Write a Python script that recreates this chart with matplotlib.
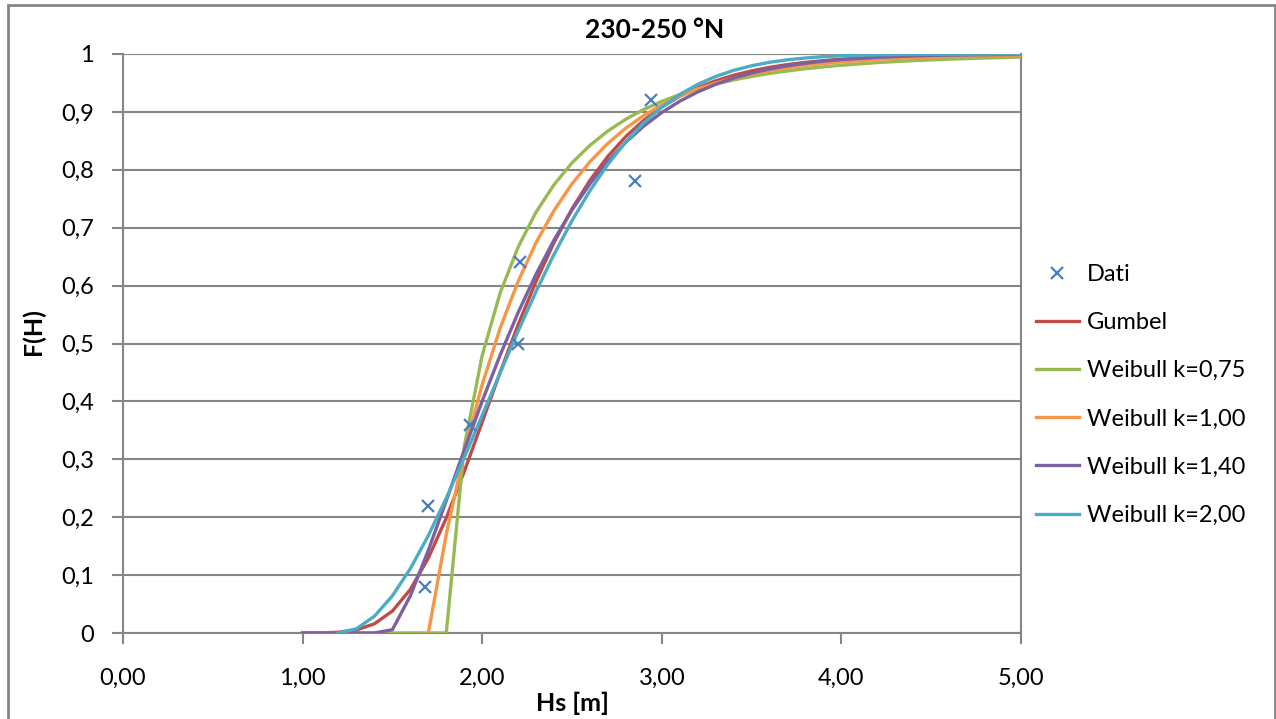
import numpy as np
import matplotlib
matplotlib.use("Agg")
import matplotlib.pyplot as plt
from matplotlib.patches import Rectangle
from matplotlib.ticker import FixedLocator, FuncFormatter

plt.rcParams['font.family'] = ['Lato', 'DejaVu Sans']

# ---- data ----
title = "230-250 °N"
x_label = "Hs [m]"
y_label = "F(H)"

dati_x = [1.68, 1.70, 1.93, 2.20, 2.21, 2.85, 2.94]
dati_f = [0.079, 0.219, 0.360, 0.500, 0.640, 0.781, 0.921]

hs = [1.0, 1.1, 1.2, 1.3, 1.4, 1.5, 1.6, 1.7, 1.8, 1.9,
      2.0, 2.1, 2.2, 2.3, 2.4, 2.5, 2.6, 2.7, 2.8, 2.9,
      3.0, 3.1, 3.2, 3.3, 3.4, 3.5, 3.6, 3.7, 3.8, 3.9,
      4.0, 4.2, 4.4, 4.6, 4.8, 5.0]

nan = float('nan')
gumbel = [0.000, 0.0002, 0.0013, 0.0053, 0.0159, 0.0379, 0.0752, 0.1295, 0.1987, 0.2789,
          0.3644, 0.4503, 0.5323, 0.6075, 0.6745, 0.7325, 0.7818, 0.8233, 0.8575, 0.8856,
          0.9085, 0.9270, 0.9418, 0.9537, 0.9633, 0.9708, 0.9769, 0.9817, 0.9855, 0.9885,
          0.9909, 0.9943, 0.9964, 0.9978, 0.9986, 0.9991]
weib_075 = [0.0, 0.0, 0.0, 0.0, 0.0, 0.0, 0.0, 0.0, 0.0, 0.3218,
            0.4795, 0.5874, 0.6665, 0.7270, 0.7743, 0.8120, 0.8423, 0.8671, 0.8874, 0.9042,
            0.9182, 0.9300, 0.9398, 0.9482, 0.9552, 0.9613, 0.9664, 0.9708, 0.9746, 0.9778,
            0.9806, 0.9852, 0.9886, 0.9911, 0.9931, 0.9946]
weib_100 = [nan, nan, nan, nan, nan, nan, nan, 0.0, 0.1705, 0.3119,
            0.4292, 0.5265, 0.6073, 0.6742, 0.7298, 0.7758, 0.8140, 0.8457, 0.8720, 0.8939,
            0.9120, 0.9270, 0.9394, 0.9498, 0.9583, 0.9654, 0.9713, 0.9762, 0.9803, 0.9836,
            0.9864, 0.9907, 0.9936, 0.9956, 0.9970, 0.9979]
weib_140 = [0.0, 0.0, 0.0, 0.0, 0.0, 0.0057, 0.0642, 0.1427, 0.2288, 0.3159,
            0.4005, 0.4801, 0.5534, 0.6197, 0.6788, 0.7307, 0.7758, 0.8147, 0.8477, 0.8756,
            0.8990, 0.9184, 0.9345, 0.9476, 0.9584, 0.9671, 0.9741, 0.9797, 0.9841, 0.9876,
            0.9904, 0.9943, 0.9967, 0.9981, 0.9989, 0.9994]
weib_200 = [nan, nan, 0.0, 0.0073, 0.0290, 0.0642, 0.1112, 0.1682, 0.2330, 0.3030,
            0.3760, 0.4494, 0.5213, 0.5900, 0.6539, 0.7121, 0.7640, 0.8095, 0.8484, 0.8811,
            0.9081, 0.9300, 0.9475, 0.9612, 0.9717, 0.9797, 0.9857, 0.9900, 0.9931, 0.9954,
            0.9969, 0.9987, 0.9995, 0.9998, 0.9999, 1.0000]

series_labels = ["Gumbel", "Weibull k=0,75", "Weibull k=1,00", "Weibull k=1,40", "Weibull k=2,00"]
series_values = [gumbel, weib_075, weib_100, weib_140, weib_200]
series_colors = ["#BE4B48", "#98B954", "#F79646", "#7D60A0", "#4BACC6"]

x_ticks = [0, 1, 2, 3, 4, 5]
y_ticks = [0.0, 0.1, 0.2, 0.3, 0.4, 0.5, 0.6, 0.7, 0.8, 0.9, 1.0]

# ---- figure ----
W, H = 1276, 719
fig = plt.figure(figsize=(W / 100, H / 100), dpi=100)
ax = fig.add_axes([123 / W, 1 - 633 / H, (1021 - 123) / W, (633 - 54) / H])

grid_c = "#868686"
ax.set_xlim(0, 5)
ax.set_ylim(0, 1)
ax.yaxis.set_major_locator(FixedLocator(y_ticks))
ax.xaxis.set_major_locator(FixedLocator(x_ticks))
ax.yaxis.grid(True, color=grid_c, linewidth=1.5)
ax.set_axisbelow(True)

def yfmt(v, p):
    if abs(v) < 1e-9:
        return "0"
    if abs(v - 1) < 1e-9:
        return "1"
    return ("%.1f" % v).replace(".", ",")

ax.yaxis.set_major_formatter(FuncFormatter(yfmt))
ax.xaxis.set_major_formatter(FuncFormatter(lambda v, p: ("%.2f" % v).replace(".", ",")))

for s in ax.spines.values():
    s.set_color(grid_c)
    s.set_linewidth(1.5)
ax.spines['top'].set_visible(False)

ax.tick_params(axis='both', direction='out', length=8, width=1.5, color=grid_c,
               labelsize=17, labelcolor='black')
ax.tick_params(axis='y', pad=13)
ax.tick_params(axis='x', pad=17)

hs_arr = np.array(hs)
handles = []
h = ax.plot(dati_x, dati_f, linestyle='none', marker='x', markersize=9,
            markeredgewidth=1.6, color="#4A7EBB", label="Dati", zorder=10)[0]
handles.append(h)
for lab, vals, col in zip(series_labels, series_values, series_colors):
    h = ax.plot(hs_arr, np.array(vals), color=col, linewidth=2.4, label=lab,
                solid_joinstyle='round', zorder=3)[0]
    handles.append(h)

fig.text(655 / W, 1 - 30 / H, title, ha='center', va='center', fontsize=19,
         fontweight='bold')
fig.text(33 / W, 1 - 332 / H, y_label, ha='center', va='center', fontsize=18,
         fontweight='bold', rotation=90)
fig.text(572 / W, 1 - 703 / H, x_label, ha='center', va='center', fontsize=18,
         fontweight='bold')

leg = fig.legend(handles=handles, loc='upper left',
                 bbox_to_anchor=(1036 / W, 1 - 264 / H), frameon=False,
                 fontsize=17, handlelength=1.8, handletextpad=0.35,
                 labelspacing=1.15, borderpad=0, borderaxespad=0)

fig.add_artist(Rectangle((8 / W, -0.01), (1275 - 8) / W, 1 - 5 / H + 0.01,
                         transform=fig.transFigure, fill=False,
                         edgecolor="#868686", linewidth=2.0))

fig.savefig("out.png", dpi=100)
